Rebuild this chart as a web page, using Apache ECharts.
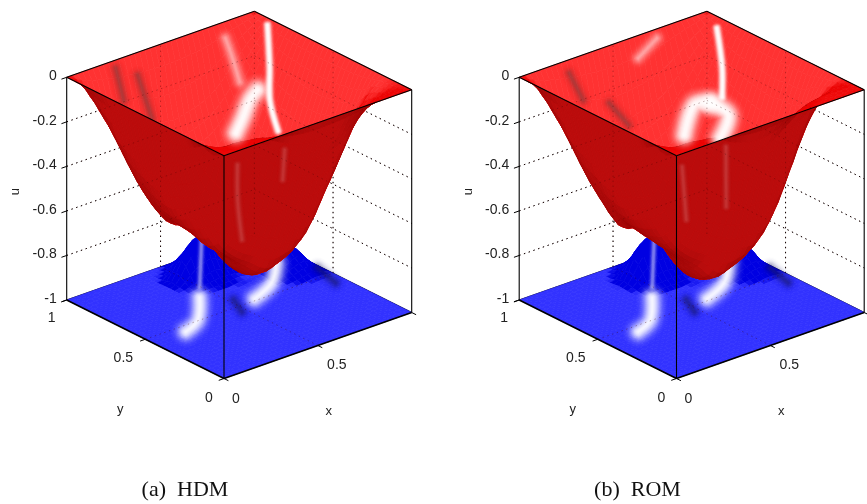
<!DOCTYPE html>
<html><head><meta charset="utf-8">
<style>html,body{margin:0;padding:0;background:#fff}#c{width:867px;height:504px}#c canvas{filter:blur(.4px)}</style>
<script src="https://cdn.jsdelivr.net/npm/echarts@6/dist/echarts.min.js"></script>
</head><body><div id="c"></div>
<script>
// ---------- data: u on a 13 x 13 grid, rows are y = 0..1, columns x = 0..1 ----------
const zero13=[0,0,0,0,0,0,0,0,0,0,0,0,0];
const floor13=[-1,-1,-1,-1,-1,-1,-1,-1,-1,-1,-1,-1,-1];
const redHDM=[
 zero13,
 [0,-.012,-.015,-.040,-.100,-.150,-.172,-.163,-.150,-.115,-.060,-.020,0],
 [0,-.080,-.100,-.220,-.320,-.363,-.378,-.359,-.340,-.300,-.150,-.050,0],
 [0,-.217,-.355,-.470,-.536,-.578,-.602,-.590,-.590,-.460,-.300,-.120,0],
 [0,-.269,-.441,-.583,-.666,-.718,-.770,-.760,-.710,-.560,-.340,-.150,0],
 [0,-.294,-.482,-.620,-.680,-.770,-.830,-.800,-.760,-.600,-.365,-.163,0],
 [0,-.310,-.507,-.600,-.660,-.770,-.840,-.820,-.760,-.610,-.378,-.172,0],
 [0,-.297,-.500,-.590,-.620,-.720,-.830,-.790,-.719,-.578,-.363,-.165,0],
 [0,-.275,-.470,-.600,-.640,-.690,-.765,-.727,-.666,-.536,-.337,-.153,0],
 [0,-.242,-.430,-.550,-.600,-.644,-.671,-.637,-.584,-.470,-.295,-.134,0],
 [0,-.183,-.330,-.430,-.470,-.487,-.507,-.482,-.441,-.355,-.223,-.101,0],
 [0,-.112,-.183,-.242,-.276,-.298,-.310,-.295,-.270,-.217,-.136,-.062,0],
 zero13];
const redROM=[
 zero13,
 [0,-.012,-.015,-.040,-.100,-.140,-.150,-.130,-.080,-.035,-.015,-.005,0],
 [0,-.080,-.100,-.220,-.320,-.360,-.380,-.372,-.340,-.270,-.170,-.055,0],
 [0,-.217,-.350,-.465,-.530,-.575,-.610,-.620,-.620,-.520,-.335,-.110,0],
 [0,-.269,-.441,-.575,-.660,-.715,-.790,-.780,-.740,-.620,-.380,-.165,0],
 [0,-.294,-.482,-.610,-.690,-.780,-.850,-.830,-.790,-.650,-.395,-.170,0],
 [0,-.310,-.507,-.610,-.670,-.790,-.865,-.850,-.790,-.650,-.395,-.180,0],
 [0,-.297,-.500,-.600,-.630,-.730,-.850,-.820,-.750,-.590,-.370,-.170,0],
 [0,-.275,-.470,-.620,-.650,-.700,-.785,-.745,-.675,-.540,-.337,-.155,0],
 [0,-.242,-.430,-.550,-.620,-.655,-.680,-.645,-.590,-.470,-.295,-.134,0],
 [0,-.183,-.330,-.430,-.470,-.490,-.510,-.485,-.441,-.355,-.223,-.101,0],
 [0,-.110,-.185,-.245,-.278,-.300,-.310,-.295,-.270,-.217,-.136,-.062,0],
 zero13];
const blueHDM=[
 floor13,floor13,floor13,floor13,floor13,floor13,
 [-1,-1,-1,-1,-1,-1,-1,-1,-1,-1,-1,-.99,-1],
 [-1,-1,-1,-1,-1,-1,-1,-1,-1,-1,-.97,-.95,-1],
 [-1,-1,-1,-1,-1,-1,-1,-1,-.99,-.99,-.95,-.91,-1],
 [-1,-1,-1,-1,-1,-.995,-.97,-.95,-.97,-1,-.97,-.92,-1],
 [-1,-1,-1,-1,-1,-.985,-.87,-.83,-.90,-.97,-1,-1,-1],
 [-1,-1,-1,-1,-1,-1,-.97,-.90,-.93,-.98,-1,-1,-1],
 floor13];
const blueROM=[
 floor13,floor13,floor13,floor13,floor13,floor13,
 [-1,-1,-1,-1,-1,-1,-1,-1,-1,-1,-1,-.99,-1],
 [-1,-1,-1,-1,-1,-1,-1,-1,-1,-1,-.97,-.95,-1],
 [-1,-1,-1,-1,-1,-1,-1,-1,-.99,-.99,-.95,-.90,-1],
 [-1,-1,-1,-1,-1,-.995,-.96,-.95,-.97,-1,-.97,-.92,-1],
 [-1,-1,-1,-1,-1,-.98,-.86,-.83,-.90,-.97,-1,-1,-1],
 [-1,-1,-1,-1,-1,-1,-.96,-.90,-.93,-.98,-1,-1,-1],
 floor13];

const uTicks=[0,-0.2,-0.4,-0.6,-0.8,-1];
const uTickLabels=['0','-0.2','-0.4','-0.6','-0.8','-1'];
const xTicks=[0,0.5];
const xTickLabels=['0','0.5'];
const yTicks=[0,0.5,1];
const yTickLabels=['0','0.5','1'];
const axisNames=['x','y','u'];
const captions=['(a)  HDM','(b)  ROM'];

// highlights and shaded streaks on the surfaces, as [x, y, u] points
const hdmSharp=[[[.954,.862,0],[.698,.543,0],[.493,.297,0],[.325,.045,0]]];
const hdmBroad=[[[.517,.403,0],[.430,.349,0],[.296,.234,0],[.181,.140,0]]];
const hdmFaint=[[[.741,.875,0],[.638,.707,0],[.511,.510,0]]];
const hdmShade=[[[.210,.939,0],[.035,.679,0]],[[.235,.829,0],[.011,.472,0]]];
const hdmWall=[[[.682,.728,-.5],[.464,.467,-.5],[.228,.158,-.5]],[[.923,.716,-.5],[.730,.498,-.5]]];
const hdmBlueSharp=[[[.588,.844,-.85],[.289,.499,-.85]]];
const hdmBlueBroad=[[[.429,.667,-1],[.286,.508,-1],[.174,.450,-1]],[[.888,.726,-1],[.748,.590,-1],[.595,.515,-1]]];
const hdmBlueShade=[[[.523,.563,-1],[.474,.452,-1]],[[.986,.582,-1],[.949,.423,-1]]];

const romSharp=[[[.925,.847,0],[.698,.543,0],[.511,.320,0]]];
const romBroad=[[[.437,.306,0],[.374,.333,0],[.156,.136,0]],[[.437,.306,0],[.418,.170,0],[.250,.019,0]]];
const romFaint=[[[.675,.930,0],[.491,.830,0]]];
const romShade=[[[.182,.899,0],[.057,.661,0]],[[.120,.571,0],[.043,.357,0]]];
const romWall=[[[.645,.734,-.5],[.327,.328,-.5]],[[.907,.768,-.5],[.533,.320,-.5]]];
const romBlueSharp=hdmBlueSharp;
const romBlueBroad=hdmBlueBroad;
const romBlueShade=hdmBlueShade;

// ---------- view ----------
const VIEW={ox:[224,676.5],oy:378.5,xx:187.7,xy:-157.3,yx:-66,yy:-78.5,uy:-222.7};
const REFINE=3;
const project=(p,q)=>[VIEW.ox[p]+VIEW.xx*q[0]+VIEW.xy*q[1], VIEW.oy+VIEW.yx*q[0]+VIEW.yy*q[1]+VIEW.uy*(q[2]+1)];

function cr(a,b,c,d,t){return b+.5*t*(c-a+t*(2*a-5*b+4*c-d+t*(3*(b-c)+d-a)));}
function sample(rows,gx,gy){
  const n=rows.length-1,cl=v=>Math.max(0,Math.min(n,v));
  const i=Math.min(n-1,Math.floor(gx)),j=Math.min(n-1,Math.floor(gy)),tx=gx-i,ty=gy-j,col=[];
  for(let b=-1;b<=2;b++){const r=rows[cl(j+b)];col.push(cr(r[cl(i-1)],r[i],r[cl(i+1)],r[cl(i+2)],tx));}
  return cr(col[0],col[1],col[2],col[3],ty);
}
const mix=(a,b,t)=>{t=Math.max(0,Math.min(1,t));return `rgb(${a.map((v,k)=>Math.round(v+(b[k]-v)*t)).join(',')})`;};
function redColor(ux,uy){
  const s=157.3*ux+187.7*uy+112.8;
  if(s>0) return mix([236,4,4],[255,50,50],(s-105)/50);
  return mix([150,4,4],[186,12,12],-s/260);
}
function blueColor(ux,uy){
  const g=Math.hypot(ux,uy);
  return mix([50,50,255],[0,0,226],(g-.1)/.2);
}
function buildCells(rows,colorOf,lo,hi){
  const n=rows.length-1,N=n*REFINE,h=[],cells=[];
  for(let j=0;j<=N;j++){h.push([]);for(let i=0;i<=N;i++){
    h[j].push(Math.max(lo,Math.min(hi,sample(rows,i/REFINE,j/REFINE))));}}
  for(let j=N-1;j>=0;j--)for(let i=N-1;i>=0;i--){
    const u00=h[j][i],u10=h[j][i+1],u01=h[j+1][i],u11=h[j+1][i+1];
    const ux=(u10+u11-u00-u01)/2*N,uy=(u01+u11-u00-u10)/2*N;
    cells.push({d:i+j,v:[[i/N,j/N,u00],[(i+1)/N,j/N,u10],[(i+1)/N,(j+1)/N,u11],[i/N,(j+1)/N,u01]],c:colorOf(ux,uy)});
  }
  cells.sort((a,b)=>b.d-a.d);
  return cells;
}
const base={type:'custom',coordinateSystem:'cartesian2d',silent:true,animation:false,progressive:0,clip:false};

function meshSeries(p,rows,colorOf,lo,hi,z){
  const cells=buildCells(rows,colorOf,lo,hi);
  return Object.assign({},base,{z,data:cells.map((c,i)=>[i]),renderItem(params,api){
    const c=cells[params.dataIndex];
    return {type:'polygon',shape:{points:c.v.map(q=>api.coord(project(p,q)))},style:{fill:c.c,stroke:c.c,lineWidth:.7}};
  }});
}
function lineSeries(p,segs,style,z){
  return Object.assign({},base,{z,data:segs.map((s,i)=>[i]),renderItem(params,api){
    const s=segs[params.dataIndex];
    return {type:'polyline',shape:{points:s.map(q=>api.coord(project(p,q)))},
      style:Object.assign({fill:null,lineCap:'round'},style)};
  }});
}
// soft glow: nested strokes, faint outside and strong inside; optionally clipped to the rim of the surface
function softSeries(p,segs,rgb,wide,core,peak,z,clipRim){
  const PASSES=16,rim=[[0,0,0],[1,0,0],[1,1,0],[0,1,0]],w=[];
  for(let k=0;k<PASSES;k++){const f=k/(PASSES-1);w.push(.04+(1-f)*(1-f));}
  const c=-Math.log(1-peak)/w.reduce((a,b)=>a+b,0);
  return Object.assign({},base,{z,data:segs.map((s,i)=>[i]),renderItem(params,api){
    const pts=segs[params.dataIndex].map(q=>api.coord(project(p,q))),children=[];
    for(let k=PASSES-1;k>=0;k--){
      const f=k/(PASSES-1);
      children.push({type:'polyline',shape:{points:pts,smooth:pts.length>2?.35:0},
        style:{fill:null,lineCap:'round',lineJoin:'round',stroke:`rgba(${rgb.join(',')},${(1-Math.exp(-c*w[k])).toFixed(4)})`,lineWidth:core+(wide-core)*f}});
    }
    const el={type:'group',children};
    if(clipRim) el.clipPath={type:'polygon',shape:{points:rim.map(q=>api.coord(project(p,q)))}};
    return el;
  }});
}
const seg=(a,b)=>[a,b];
function boxGrid(){
  const g=[];
  uTicks.slice(1,5).forEach(u=>{g.push(seg([0,1,u],[1,1,u]));g.push(seg([1,1,u],[1,0,u]));});
  g.push(seg([1,1,-1],[1,1,0]),seg([.5,1,-1],[.5,1,0]),seg([1,.5,-1],[1,.5,0]));
  g.push(seg([.5,0,-1],[.5,1,-1]),seg([0,.5,-1],[1,.5,-1]));
  return g;
}
const tickLen=.028;
function tickSegs(){
  const t=[];
  uTicks.forEach(u=>t.push(seg([0,1,u],[-tickLen,1,u])));
  [0,.5,1].forEach(x=>t.push(seg([x,0,-1],[x,-tickLen,-1])));
  [0,.5,1].forEach(y=>t.push(seg([0,y,-1],[-tickLen,y,-1])));
  return t;
}
const labelOffset={x:[[12,21],[19,20]],y:[[-15,20],[-22,19],[-15,18]],u:[-10,-1]};
const nameSpot={x:[.5,0,-1,11,66],y:[0,.5,-1,-25,70],u:[0,1,-.5,-51,3]};
const TXT='#222';
const FONT='14px "Liberation Sans",Arial,sans-serif';
const NAMEFONT='13px "Liberation Sans",Arial,sans-serif';
function textSeries(p,cap){
  const items=[];
  uTicks.forEach((u,k)=>items.push({q:[0,1,u],o:labelOffset.u,t:uTickLabels[k],a:'right',f:FONT}));
  xTicks.forEach((x,k)=>items.push({q:[x,0,-1],o:labelOffset.x[k],t:xTickLabels[k],a:'center',f:FONT}));
  yTicks.forEach((y,k)=>items.push({q:[0,y,-1],o:labelOffset.y[k],t:yTickLabels[k],a:'center',f:FONT}));
  axisNames.forEach(n=>{const s=nameSpot[n];items.push({q:s.slice(0,3),o:s.slice(3),t:n,a:'center',f:NAMEFONT,r:n==='u'?Math.PI/2:0});});
  items.push({q:[0,0,-1],o:[-39,111.5],t:cap,a:'center',f:'22px "Liberation Serif","Times New Roman",serif',c:'#111'});
  return Object.assign({},base,{z:20,data:items.map((c,i)=>[i]),renderItem(params,api){
    const it=items[params.dataIndex],[a,b]=api.coord(project(p,it.q));
    return {type:'text',x:a+it.o[0],y:b+it.o[1],rotation:it.r||0,
      style:{text:it.t,font:it.f,fill:it.c||TXT,textAlign:it.a,textVerticalAlign:'middle'}};
  }});
}
function panel(p,red,blue,cap,g){
  const dots={stroke:'#000',lineWidth:1,lineDash:[1.4,3.6],lineCap:'butt'};
  const dotsOver={stroke:'rgba(60,0,0,.33)',lineWidth:1,lineDash:[1.4,3.6],lineCap:'butt'};
  const solid={stroke:'#000',lineWidth:1.1,lineCap:'butt'};
  const thick={stroke:'#000',lineWidth:1.6,lineCap:'butt'};
  const farBottom=[seg([0,1,-1],[1,1,-1]),seg([1,1,-1],[1,0,-1])];
  const front=[seg([0,1,-1],[0,1,0]),seg([0,0,-1],[0,0,0]),seg([1,0,-1],[1,0,0]),
    seg([0,1,0],[0,0,0]),seg([0,0,0],[1,0,0]),seg([1,0,0],[1,1,0]),seg([1,1,0],[0,1,0])];
  const frontBottom=[seg([0,1,-1],[0,0,-1]),seg([0,0,-1],[1,0,-1])];
  return [
    lineSeries(p,boxGrid(),dots,1),
    lineSeries(p,farBottom,solid,2),
    meshSeries(p,blue,blueColor,-1,-.5,3),
    softSeries(p,g.blueSharp,[225,225,255],12,2,.55,4),
    softSeries(p,g.blueBroad,[255,255,255],32,2,.95,4),
    softSeries(p,g.blueShade,[30,30,110],22,2,.6,4),
    meshSeries(p,red,redColor,-1,0,5),
    softSeries(p,g.shade,[110,70,70],20,2,.5,6,true),
    softSeries(p,g.wall,[220,130,130],16,2,.35,6),
    softSeries(p,g.faint,[255,200,200],24,2,.75,6,true),
    softSeries(p,g.broad,[255,255,255],34,3,.97,6,true),
    softSeries(p,g.sharp,[255,255,255],13,1,.98,6,true),
    lineSeries(p,boxGrid(),dotsOver,7),
    lineSeries(p,front,solid,8),
    lineSeries(p,frontBottom,thick,8),
    lineSeries(p,tickSegs(),{stroke:'#000',lineWidth:1,lineCap:'butt'},8),
    textSeries(p,cap)
  ];
}
const chart=echarts.init(document.getElementById('c'),null,{renderer:'canvas',width:867,height:504});
chart.setOption({
  backgroundColor:'#fff',animation:false,
  grid:{left:0,top:0,right:0,bottom:0},
  xAxis:{type:'value',min:0,max:867,show:false},
  yAxis:{type:'value',min:0,max:504,inverse:true,show:false},
  series:[...panel(0,redHDM,blueHDM,captions[0],{sharp:hdmSharp,broad:hdmBroad,faint:hdmFaint,shade:hdmShade,wall:hdmWall,blueSharp:hdmBlueSharp,blueBroad:hdmBlueBroad,blueShade:hdmBlueShade}),
          ...panel(1,redROM,blueROM,captions[1],{sharp:romSharp,broad:romBroad,faint:romFaint,shade:romShade,wall:romWall,blueSharp:romBlueSharp,blueBroad:romBlueBroad,blueShade:romBlueShade})]
});
</script></body></html>
